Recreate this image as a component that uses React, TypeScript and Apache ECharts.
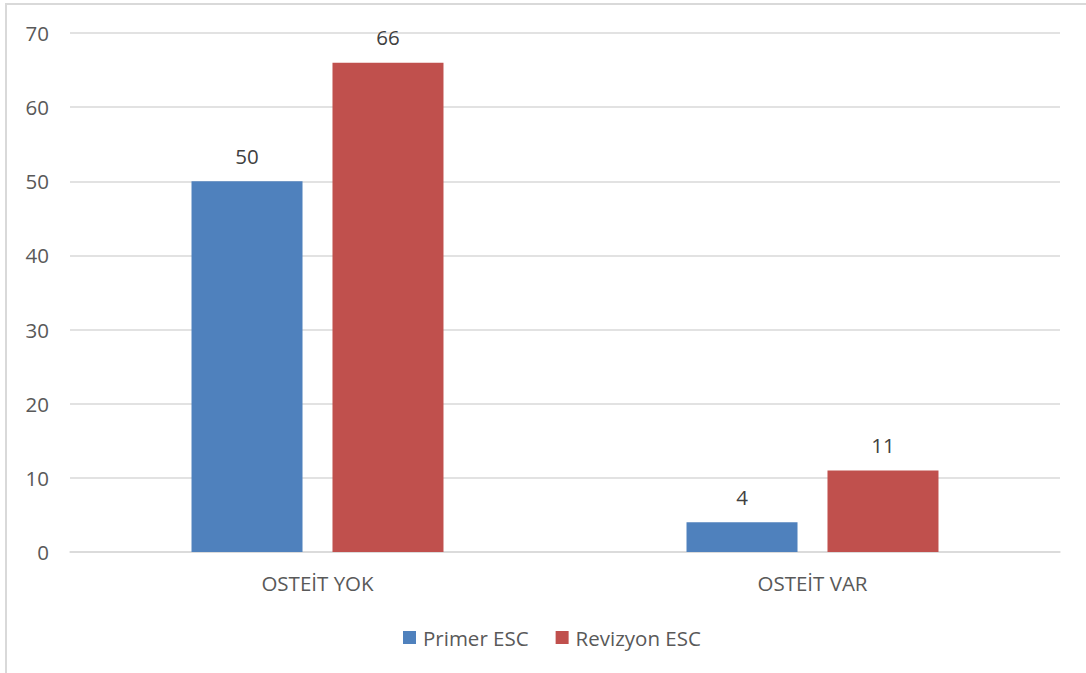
import React, { useEffect, useRef } from "react";
import * as echarts from "echarts";

const categories = ["OSTEİT YOK", "OSTEİT VAR"];
const primerValues = [50, 4];
const revizyonValues = [66, 11];
const seriesNames = ["Primer ESC", "Revizyon ESC"];
const yTicks = { min: 0, max: 70, interval: 10 };

const FONT = "'Open Sans', 'Noto Sans', sans-serif";
const TEXT = "#595959";
const FS = 20.5;

export default function App() {
  const ref = useRef<HTMLDivElement>(null);
  useEffect(() => {
    document.body.style.margin = "0";
    const chart = echarts.init(ref.current!, null, { renderer: "svg" });
    chart.setOption({
      animation: false,
      backgroundColor: "#ffffff",
      textStyle: { fontFamily: FONT },
      graphic: [
        {
          type: "rect",
          shape: { x: 6, y: 4, width: 1200, height: 800 },
          style: { fill: "none", stroke: "#d9d9d9", lineWidth: 2 },
          silent: true,
        },
      ],
      grid: { left: 70, right: 26, top: 33, bottom: 121 },
      legend: {
        left: 398,
        top: 622,
        itemWidth: 13,
        itemHeight: 13,
        itemGap: 27,
        icon: "rect",
        textStyle: { color: TEXT, fontSize: FS, fontFamily: FONT, padding: [0, 0, 0, 2] },
        data: seriesNames,
      },
      xAxis: {
        type: "category",
        data: categories,
        axisLine: { show: true, lineStyle: { color: "#d9d9d9", width: 1.5 } },
        axisTick: { show: false },
        axisLabel: { color: TEXT, fontSize: FS, fontFamily: FONT, margin: 20 },
      },
      yAxis: {
        type: "value",
        min: yTicks.min,
        max: yTicks.max,
        interval: yTicks.interval,
        axisLine: { show: false },
        axisTick: { show: false },
        axisLabel: { color: TEXT, fontSize: FS, fontFamily: FONT, margin: 21 },
        splitLine: { lineStyle: { color: "#d9d9d9", width: 1.5 } },
      },
      series: [
        {
          name: seriesNames[0],
          type: "bar",
          data: primerValues,
          barWidth: 111,
          barGap: "27%",
          itemStyle: { color: "#4f81bd" },
          label: { show: true, position: "top", distance: 15, color: "#404040", fontSize: FS, fontFamily: FONT },
        },
        {
          name: seriesNames[1],
          type: "bar",
          data: revizyonValues,
          barWidth: 111,
          barGap: "27%",
          itemStyle: { color: "#c0504d" },
          label: { show: true, position: "top", distance: 15, color: "#404040", fontSize: FS, fontFamily: FONT },
        },
      ],
    });
    return () => chart.dispose();
  }, []);
  return <div ref={ref} style={{ width: 1086, height: 673 }} />;
}
